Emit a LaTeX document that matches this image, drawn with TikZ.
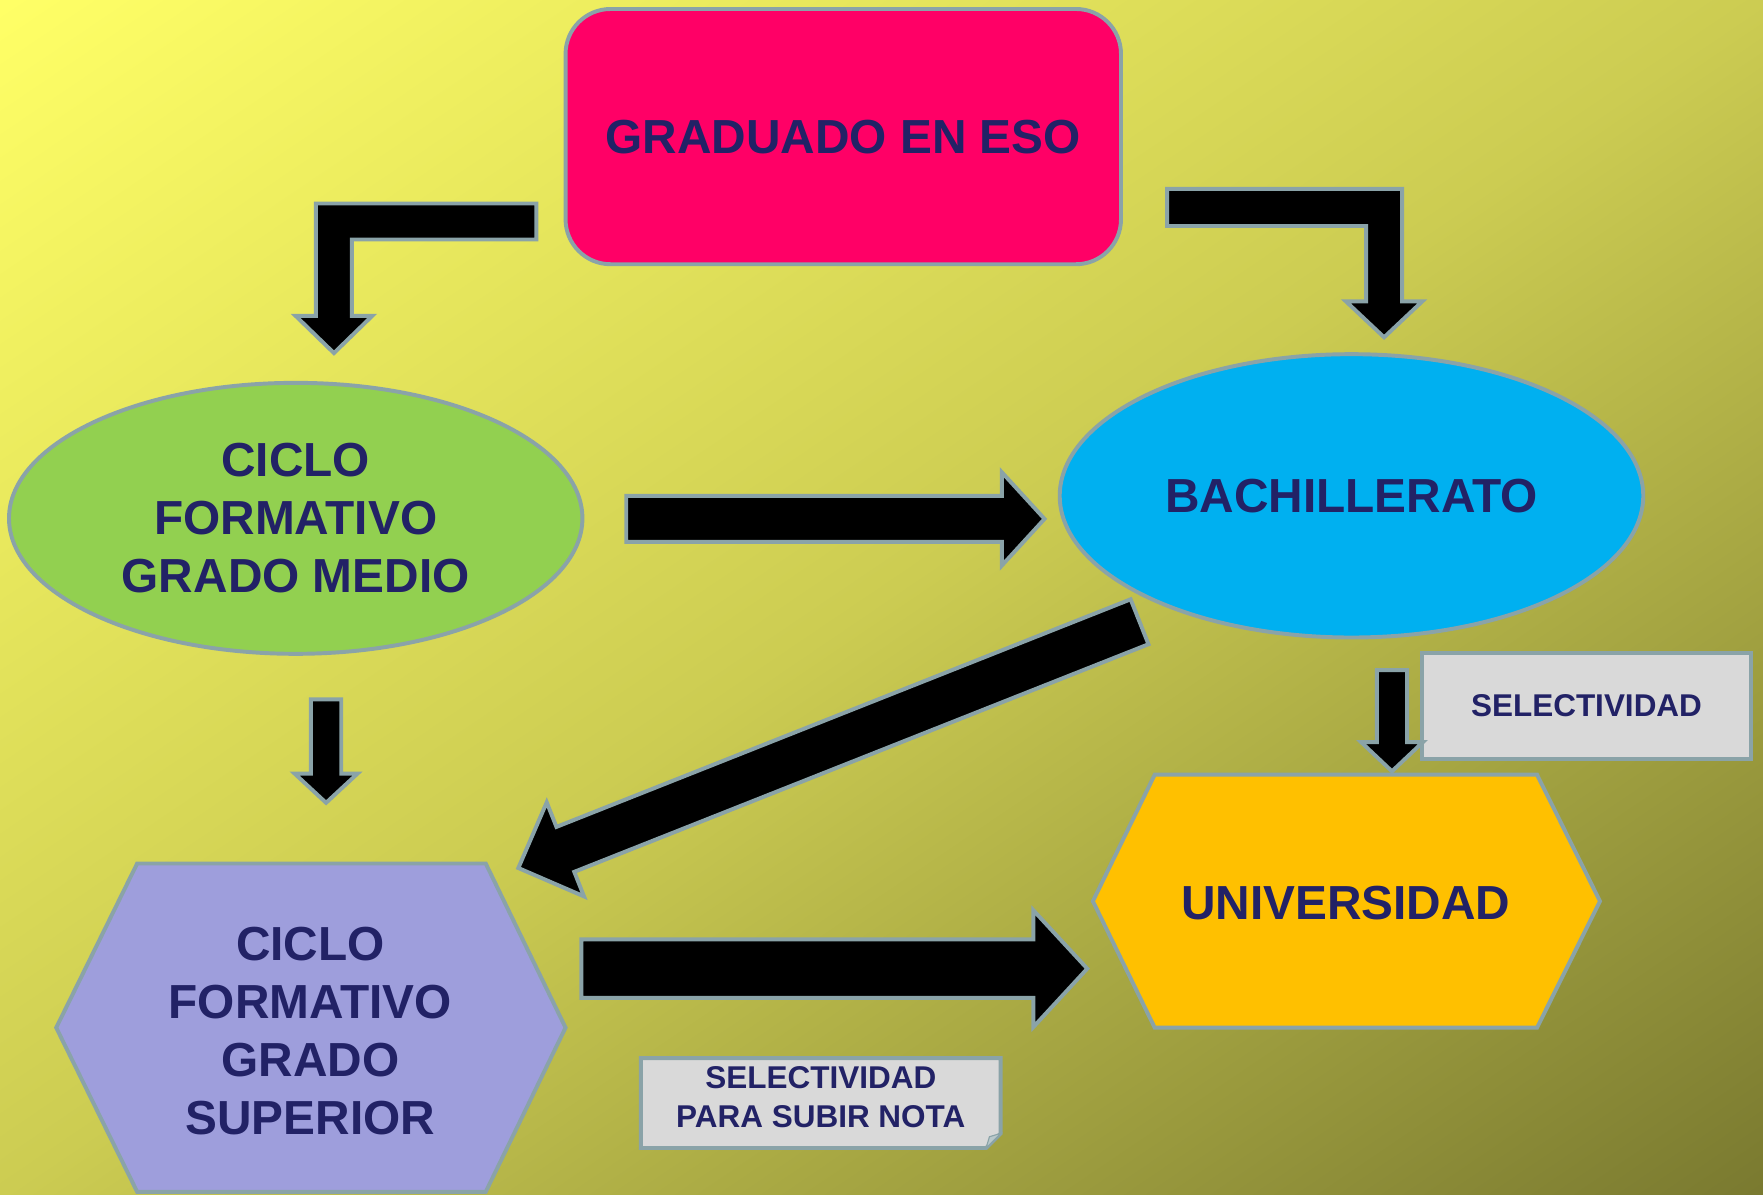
\documentclass[tikz,border=0pt]{standalone}
\usepackage{fontspec}
\setmainfont{Liberation Sans}
\usetikzlibrary{shapes.geometric,calc}

\definecolor{bgtop}{RGB}{255,255,102}
\definecolor{bgmid}{RGB}{204,204,82}
\definecolor{bgbottom}{RGB}{122,122,48}
\definecolor{edgegray}{RGB}{138,163,168}
\definecolor{textnavy}{RGB}{34,34,102}
\definecolor{esopink}{RGB}{255,0,102}
\definecolor{medgreen}{RGB}{146,208,80}
\definecolor{bachblue}{RGB}{0,176,240}
\definecolor{supviolet}{RGB}{158,158,220}
\definecolor{unigold}{RGB}{255,192,0}
\definecolor{notegray}{RGB}{217,217,217}

\pgfdeclareverticalshading{bgdiag}{100bp}{color(0bp)=(bgbottom); color(14.6bp)=(bgbottom);
    color(50bp)=(bgmid); color(85.4bp)=(bgtop); color(100bp)=(bgtop)}

% straight block arrow: tail, tip, shaft half width, head half width, head length
\newcommand{\blockarrow}[5]{%
    \coordinate (ba-h) at ($(#2)!#5pt!(#1)$);
    \filldraw[arrowbody]
        ($(#1)!#3pt!90:(#2)$) -- ($(ba-h)!#3pt!-90:(#1)$) -- ($(ba-h)!#4pt!-90:(#1)$)
        -- (#2) -- ($(ba-h)!#4pt!90:(#1)$) -- ($(ba-h)!#3pt!90:(#1)$)
        -- ($(#1)!#3pt!-90:(#2)$) -- cycle;
}

\begin{document}
\begin{tikzpicture}[
    x=1pt, y=-1pt,
    every node/.style={text=textnavy, align=center,
        font=\bfseries\fontsize{42.5}{51.5}\selectfont},
    smalltext/.style={font=\bfseries\fontsize{28}{35}\selectfont},
    outline/.style={draw=edgegray, line width=3.5pt},
    oval/.style={outline, ellipse, inner sep=0pt},
    arrowbody/.style={outline, fill=black, line join=miter},
    notebox/.style={outline, fill=notegray}
]
    % Background
    \useasboundingbox (0,0) rectangle (1568,1062);
    \shade[shading=bgdiag, shading angle=45, transform canvas={xscale=1.4765}]
        (0,0) rectangle (1062,1062);

    % Main nodes
    \node[outline, fill=esopink, rectangle, rounded corners=40pt,
        minimum width=494pt, minimum height=227pt] (eso) at (750,121.5) {GRADUADO EN ESO};
    \node[oval, fill=medgreen, minimum width=510pt, minimum height=241pt] (medio) at (263,461)
        {CICLO\\FORMATIVO\\GRADO MEDIO};
    \node[oval, fill=bachblue, minimum width=519pt, minimum height=252pt] (bach) at (1202,441)
        {BACHILLERATO};

    % Hexagons
    \filldraw[outline, fill=supviolet] (122,768) -- (432,768) -- (503,914) -- (432,1060)
        -- (122,1060) -- (50,914) -- cycle;
    \node (superior) at (276,917) {CICLO\\FORMATIVO\\GRADO\\SUPERIOR};
    \filldraw[outline, fill=unigold] (1027,689) -- (1367,689) -- (1423,801.5) -- (1367,914)
        -- (1027,914) -- (972,801.5) -- cycle;
    \node (uni) at (1197,803) {UNIVERSIDAD};

    % Notes
    \node[notebox, smalltext, minimum width=292pt, minimum height=94pt] (sel) at (1411,628)
        {SELECTIVIDAD};
    \filldraw[notebox] (570,941) -- (890,941) -- (890,1008) -- (877,1021) -- (570,1021) -- cycle;
    \filldraw[draw=edgegray, line width=1pt, fill=edgegray!60] (890,1008) -- (877,1021) -- (880,1011) -- cycle;
    \node[smalltext] (selnota) at (730,976) {SELECTIVIDAD\\PARA SUBIR NOTA};

    % Bent arrows from the top box
    \filldraw[arrowbody] (477,181) -- (281,181) -- (281,281) -- (263,281) -- (297,314)
        -- (331,281) -- (313,281) -- (313,213) -- (477,213) -- cycle;
    \filldraw[arrowbody] (1038,168) -- (1247,168) -- (1247,268) -- (1265,268) -- (1231,300)
        -- (1197,268) -- (1215,268) -- (1215,201) -- (1038,201) -- cycle;

    % Arrow end points
    \coordinate (m2b-a) at (557,461.5);   \coordinate (m2b-b) at (929,461.5);
    \coordinate (m2s-a) at (290,622);     \coordinate (m2s-b) at (290,714);
    \coordinate (b2s-a) at (1013.5,553);  \coordinate (b2s-b) at (461,772);
    \coordinate (s2u-a) at (517,861.5);   \coordinate (s2u-b) at (967,861.5);
    \coordinate (b2u-a) at (1238,596);    \coordinate (b2u-b) at (1238,686);

    % Straight arrows
    \blockarrow{m2b-a}{m2b-b}{20.5}{41.5}{38}
    \blockarrow{m2s-a}{m2s-b}{13.5}{28}{26}
    \blockarrow{b2s-a}{b2s-b}{21.5}{45}{45}
    \blockarrow{s2u-a}{s2u-b}{26}{52}{48}
    \blockarrow{b2u-a}{b2u-b}{13.5}{27.5}{26}
\end{tikzpicture}
\end{document}
